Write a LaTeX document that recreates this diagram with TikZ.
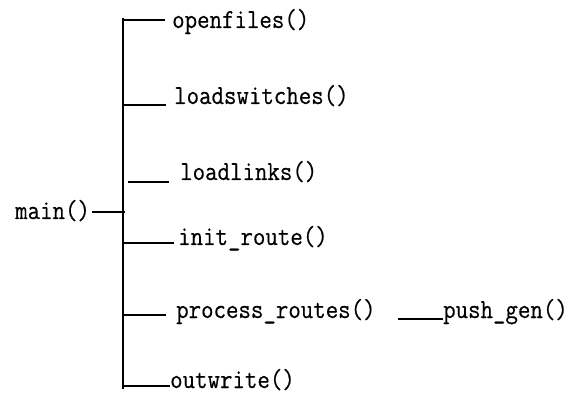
\documentclass[tikz,border=0pt]{standalone}
\usepackage{fontspec}
\usepackage{tikz}
\usetikzlibrary{positioning,calc}
\newfontfamily\codefont[FakeStretch=0.88,FakeBold=0.4]{Latin Modern Mono}

\begin{document}
\begin{tikzpicture}[x=1pt,y=-1pt,
    fn/.style={inner ysep=0pt,anchor=base west,font=\fontsize{27.5}{32}\codefont},
    bar/.style={line width=2.8pt},
    branch/.style={line width=1.7pt}]
            \useasboundingbox (0,0) rectangle (571,393);
            % the vertical bar that holds all the calls of main()
            \coordinate (top) at (123,18);
            \coordinate (bot) at (123,389);
            \draw[bar] (top) -- (bot);
            % the caller on the left
            \coordinate (t-main) at (125,212);
            \node[fn,inner xsep=2pt] (main) at (13,219) {main()};
            \draw[branch] (t-main -| main.east) -- (t-main);
            % one branch per called function: name/tap x/tap y/line end/gap/baseline/text
            \foreach \name/\tx/\ty/\ex/\gap/\by/\txt in {
                open/123/20/165/7/28/openfiles(),
                lsw/123/105/166/8/104/loadswitches(),
                llk/128/182/169/11/180/loadlinks(),
                init/123/243/174/4/245/init\_route(),
                proc/123/315/166/10/318/process\_routes(),
                out/123/386/170/0/388/outwrite()}
            {
                \coordinate (t-\name) at (\tx,\ty);
                \node[fn,inner xsep=\gap pt] (\name) at (\ex,\by) {\txt};
                \draw[branch] (t-\name) -- (t-\name -| \name.west);
            }
            % process_routes() calls push_gen()
            \coordinate (t-push) at (398,319);
            \node[fn,inner xsep=0pt] (push) at (443,318) {push\_gen()};
            \draw[branch] (t-push) -- (t-push -| push.west);
\end{tikzpicture}
\end{document}
